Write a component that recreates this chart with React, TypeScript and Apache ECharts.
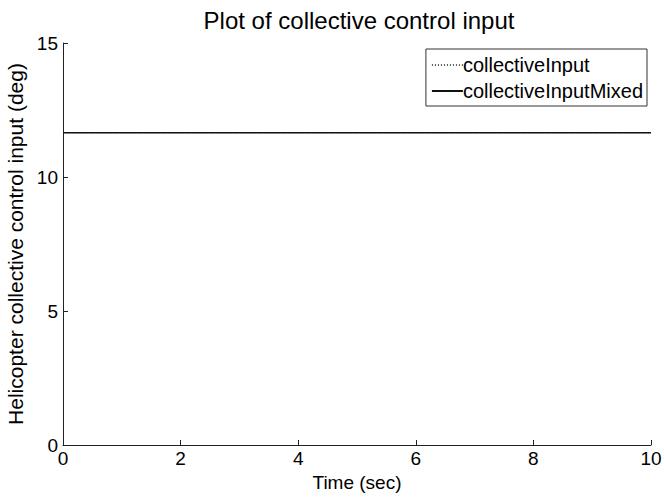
import React, { useEffect, useRef } from "react";
import * as echarts from "echarts";

const time = [0, 10];
const collectiveInput = [11.65, 11.65];
const collectiveInputMixed = [11.65, 11.65];
const seriesNames = ["collectiveInput", "collectiveInputMixed"];

export default function App() {
  const ref = useRef<HTMLDivElement>(null);
  useEffect(() => {
    const chart = echarts.init(ref.current!, null, { renderer: "svg" });
    const font = "Liberation Sans, Arial, Helvetica, sans-serif";
    chart.setOption({
      animation: false,
      backgroundColor: "#fff",
      textStyle: { fontFamily: font, color: "#000" },
      title: {
        text: "Plot of collective control input",
        left: 354,
        textAlign: "center",
        top: 3,
        textStyle: { fontFamily: font, fontSize: 24, fontWeight: "normal", color: "#000" },
      },
      grid: { left: 63, right: 13, top: 43, bottom: 52, containLabel: false, outerBoundsMode: "none" },
      legend: {
        orient: "vertical",
        right: 17,
        top: 49,
        padding: [6, 4, 5, 5],
        itemGap: 6,
        itemWidth: 31,
        itemHeight: 10,
        borderColor: "#333",
        borderWidth: 1,
        backgroundColor: "#fff",
        itemStyle: { opacity: 0, color: "transparent", borderWidth: 0 },
        textStyle: { fontFamily: font, fontSize: 20, color: "#000", padding: [0, 0, 0, -5] },
        data: seriesNames,
      },
      xAxis: {
        type: "value",
        min: 0,
        max: 10,
        interval: 2,
        name: "Time (sec)",
        nameLocation: "middle",
        nameGap: 19,
        nameTextStyle: { fontFamily: font, fontSize: 19, color: "#000" },
        axisLine: { lineStyle: { color: "#222" } },
        axisTick: { inside: true, length: 5, lineStyle: { color: "#222" } },
        axisLabel: { fontFamily: font, fontSize: 19, color: "#000", margin: 4 },
        splitLine: { show: false },
      },
      yAxis: {
        type: "value",
        min: 0,
        max: 15,
        interval: 5,
        name: "Helicopter collective control input (deg)",
        nameLocation: "middle",
        nameGap: 26,
        nameTextStyle: { fontFamily: font, fontSize: 21, color: "#000" },
        axisLine: { show: true, lineStyle: { color: "#222" } },
        axisTick: { show: true, inside: true, length: 5, lineStyle: { color: "#222" } },
        axisLabel: { fontFamily: font, fontSize: 19, color: "#000", margin: 5 },
        splitLine: { show: false },
      },
      series: [
        {
          name: seriesNames[0],
          type: "line",
          data: time.map((t, i) => [t, collectiveInput[i]]),
          symbol: "none",
          showSymbol: false,
          lineStyle: { color: "#555", width: 1, type: [1, 2] },
          itemStyle: { color: "#555" },
        },
        {
          name: seriesNames[1],
          type: "line",
          data: time.map((t, i) => [t, collectiveInputMixed[i]]),
          symbol: "none",
          showSymbol: false,
          lineStyle: { color: "#111", width: 1.5 },
          itemStyle: { color: "#111" },
        },
      ],
    });
    return () => chart.dispose();
  }, []);
  return <div ref={ref} style={{ width: 664, height: 497, position: "absolute", left: 0, top: 0 }} />;
}
